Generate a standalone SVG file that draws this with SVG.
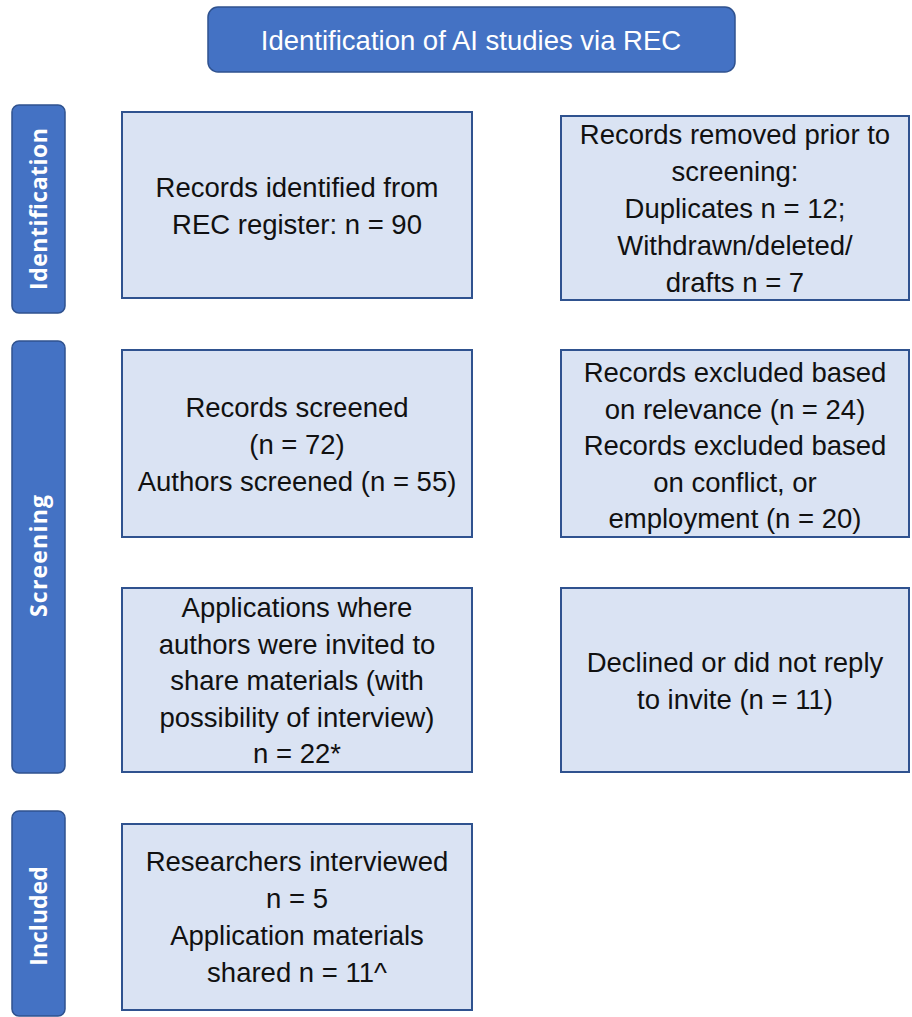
<svg xmlns="http://www.w3.org/2000/svg" width="912" height="1017" viewBox="0 0 912 1017">
<style>
.bar{fill:#4472C4;stroke:#2F528F;stroke-width:1.5}
.box{fill:#DAE3F3;stroke:#2F528F;stroke-width:2}
.t{font-family:"Liberation Sans",Arial,sans-serif;font-size:27.5px;fill:#111;text-anchor:middle}
.w{fill:#fff}
.side{font-family:"Open Sans","DejaVu Sans",sans-serif;font-weight:700;font-size:23px;fill:#fff;text-anchor:middle}
</style>
<rect width="912" height="1017" fill="#fff"/>
<g id="title">
<rect class="bar" x="208" y="7" width="527" height="65" rx="10"/>
<text class="t w" x="471" y="50">Identification of AI studies via REC</text>
</g>
<g id="phase-identification">
<rect class="bar" x="12" y="105" width="53" height="208" rx="7"/>
<text class="side" transform="translate(47,209) rotate(-90)" textLength="162" lengthAdjust="spacing">Identification</text>
</g>
<g id="phase-screening">
<rect class="bar" x="12" y="341" width="53" height="432" rx="7"/>
<text class="side" transform="translate(47,556) rotate(-90)" textLength="122" lengthAdjust="spacing">Screening</text>
</g>
<g id="phase-included">
<rect class="bar" x="12" y="811" width="53" height="205" rx="7"/>
<text class="side" transform="translate(47,916) rotate(-90)">Included</text>
</g>
<g id="records-identified">
<rect class="box" x="122" y="112" width="350" height="186"/>
<text class="t" x="297" y="197">Records identified from</text>
<text class="t" x="297" y="234">REC register: n = 90</text>
</g>
<g id="records-removed">
<rect class="box" x="561" y="116" width="348" height="184"/>
<text class="t" x="735" y="144">Records removed prior to</text>
<text class="t" x="735" y="181">screening:</text>
<text class="t" x="735" y="218">Duplicates n = 12;</text>
<text class="t" x="735" y="255">Withdrawn/deleted/</text>
<text class="t" x="735" y="292">drafts n = 7</text>
</g>
<g id="records-screened">
<rect class="box" x="122" y="350" width="350" height="187"/>
<text class="t" x="297" y="417">Records screened</text>
<text class="t" x="297" y="454">(n = 72)</text>
<text class="t" x="297" y="491">Authors screened (n = 55)</text>
</g>
<g id="records-excluded">
<rect class="box" x="561" y="350" width="348" height="187"/>
<text class="t" x="735" y="382">Records excluded based</text>
<text class="t" x="735" y="418.5">on relevance (n = 24)</text>
<text class="t" x="735" y="455">Records excluded based</text>
<text class="t" x="735" y="491.5">on conflict, or</text>
<text class="t" x="735" y="528">employment (n = 20)</text>
</g>
<g id="applications-invited">
<rect class="box" x="122" y="588" width="350" height="184"/>
<text class="t" x="297" y="617">Applications where</text>
<text class="t" x="297" y="653.5">authors were invited to</text>
<text class="t" x="297" y="690">share materials (with</text>
<text class="t" x="297" y="726.5">possibility of interview)</text>
<text class="t" x="297" y="763">n = 22*</text>
</g>
<g id="declined">
<rect class="box" x="561" y="588" width="348" height="184"/>
<text class="t" x="735" y="672">Declined or did not reply</text>
<text class="t" x="735" y="709">to invite (n = 11)</text>
</g>
<g id="included-results">
<rect class="box" x="122" y="824" width="350" height="186"/>
<text class="t" x="297" y="871">Researchers interviewed</text>
<text class="t" x="297" y="908">n = 5</text>
<text class="t" x="297" y="945">Application materials</text>
<text class="t" x="297" y="982">shared n = 11^</text>
</g>
<g id="connectors"></g>
</svg>
